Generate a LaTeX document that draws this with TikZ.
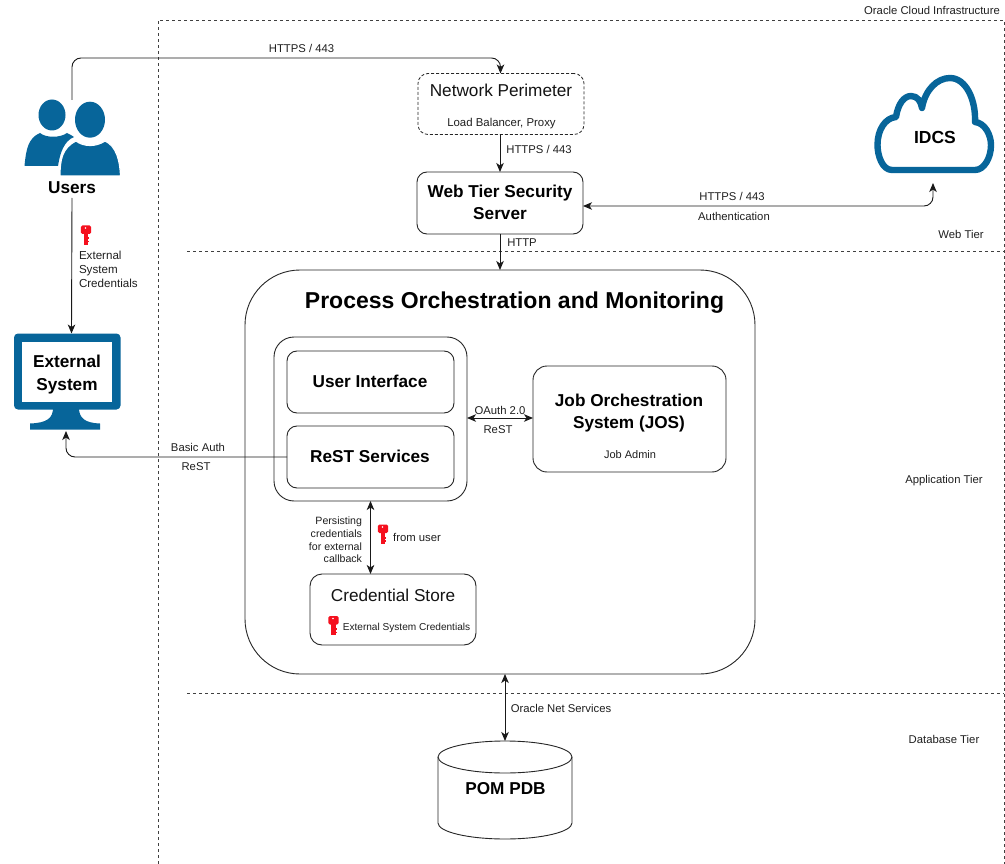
\documentclass[tikz,border=0pt]{standalone}
\usepackage{fontspec}
\setmainfont{Liberation Sans}
\usetikzlibrary{arrows.meta,calc}
\definecolor{iconblue}{HTML}{07659A}
\definecolor{keyred}{HTML}{F5101E}
\newcommand{\fsz}[1]{\fontsize{#1}{#1}\selectfont}
\tikzset{
  x=1pt,y=-1pt,
  every node/.style={inner sep=0pt,outer sep=0pt},
  lab/.style={font=\fsz{11.3},text=black!88},
  labsm/.style={font=\fsz{11},text=black!88},
  title/.style={font=\fsz{17.2},align=center,text=black!92},
  btitle/.style={font=\bfseries\fsz{17.2},align=center,text=black},
  box/.style={draw=black!85,line width=0.9pt,rounded corners=#1},
  box/.default=10pt,
  conn/.style={draw=black!90,line width=0.9pt,-{Stealth[length=9pt,width=7.5pt,inset=2.5pt]}},
  connb/.style={draw=black!90,line width=0.9pt,{Stealth[length=9pt,width=7.5pt,inset=2.5pt]}-{Stealth[length=9pt,width=7.5pt,inset=2.5pt]}},
  tier/.style={draw=black!75,line width=0.8pt,dash pattern=on 3pt off 3pt},
  keyicon/.pic={
    \fill[keyred,rounded corners=1.5pt] (-5.2,-9.5) rectangle (5.2,-1);
    \fill[keyred] (-2.2,-2) rectangle (2.2,9.5);
    \fill[keyred] (2,2.5) rectangle (3.2,4.5);
    \fill[keyred] (2,6) rectangle (3.2,7.5);
    \fill[white] (-0.5,-7) circle (0.8);
  },
}
\begin{document}
\begin{tikzpicture}
\useasboundingbox (0,0) rectangle (1005,864);
\fill[white] (0,0) rectangle (1005,864);

% tiers
\coordinate (ociBL) at (158,864);
\coordinate (ociTL) at (158,20);
\coordinate (ociTR) at (1004,20);
\coordinate (ociBR) at (1004,864);
\draw[tier] (ociBL) -- (ociTL) -- (ociTR) -- (ociBR);
\coordinate (webL) at (187,251);
\coordinate (webR) at (1004,251);
\draw[tier] (webL) -- (webR);
\coordinate (dbL) at (187,693);
\coordinate (dbR) at (1004,693);
\draw[tier] (dbL) -- (dbR);

% boxes
\node[draw=black!85,line width=0.8pt,dash pattern=on 3pt off 2pt,rounded corners=10pt,minimum width=166,minimum height=61] (net) at (501,104) {};
\node[box,minimum width=166,minimum height=62] (web) at (500,203) {};
\node[box=55pt,minimum width=510,minimum height=404] (pom) at (500,472) {};
\node[box=20pt,minimum width=193,minimum height=164] (cont) at (370.5,419) {};
\node[box,minimum width=167,minimum height=62] (ui) at (370.5,382) {};
\node[box,minimum width=167,minimum height=62] (rest) at (370.5,457) {};
\node[box=14pt,minimum width=193,minimum height=106] (jos) at (629.5,419) {};
\node[box=12pt,minimum width=166,minimum height=71] (cred) at (393,609.5) {};

% database
\node[minimum width=134,minimum height=98] (pdb) at (505,790) {};
\draw[draw=black!85,line width=0.9pt] (pdb.north west) ++(0,16)
  arc[start angle=180,end angle=360,x radius=67,y radius=16]
  -- ++(0,66)
  arc[start angle=0,end angle=180,x radius=67,y radius=16] -- cycle;
\draw[draw=black!85,line width=0.9pt] (pdb.north west) ++(0,16)
  arc[start angle=180,end angle=0,x radius=67,y radius=16];

% users icon
\coordinate (usersTop) at (72,100);
\coordinate (usersBot) at (72,198);
\fill[iconblue] (52,115) ellipse[x radius=13.5,y radius=15.5];
\fill[iconblue] (24.5,166) .. controls (26,150) and (28,138) .. (40,133)
  .. controls (46,138) and (60,138) .. (67,133)
  .. controls (70,134) and (72,136) .. (74,137)
  .. controls (64,141) and (60,153) .. (58,166) -- cycle;
\fill[iconblue] (90,119.7) ellipse[x radius=15,y radius=18];
\draw[white,line width=1.2pt,fill=iconblue] (60,176) .. controls (60,160) and (62,148) .. (76,141)
  .. controls (84,147) and (96,147) .. (105,141)
  .. controls (116,146) and (120,160) .. (120.5,176) -- cycle;

% monitor icon
\fill[iconblue,rounded corners=4pt] (14,333.5) rectangle (120.5,409.5);
\fill[white] (22,342) rectangle (112,401.5);
\fill[iconblue] (53,408) .. controls (53,418) and (47,423) .. (30,423.5)
  -- (30,429.5) -- (100,429.5) -- (100,423.5)
  .. controls (85,423) and (79,418) .. (79,408) -- cycle;
\coordinate (extTop) at (71.5,333.5);
\coordinate (extBot) at (66,431);

% cloud icon
\draw[iconblue,line width=6.4pt,line join=round,fill=white]
  (892,170)
  .. controls (882,170) and (877.5,155) .. (877.5,145)
  .. controls (877.5,130) and (885,118) .. (896,117)
  .. controls (898,104) and (904,96) .. (911,96)
  .. controls (918,96) and (921,102) .. (922,108)
  .. controls (925,90) and (937,78) .. (950,78)
  .. controls (966,78) and (976,100) .. (975,122)
  .. controls (985,123) and (991,135) .. (991,145)
  .. controls (991,158) and (984,170) .. (975,170)
  -- cycle;
\coordinate (idcsIn) at (933,183);

% connectors
\coordinate (bendA) at (72,58);
\coordinate (bendB) at (500.5,58);
\draw[conn,rounded corners=9pt] (usersTop) -- (bendA) -- (bendB) -- (bendB |- net.north);
\draw[conn] (net.south -| web.north) -- (web.north);
\draw[connb,rounded corners=9pt] (web.east |- 0,206) -- (idcsIn |- 0,206) -- (idcsIn);
\draw[conn] (web.south) -- (web.south |- pom.north);
\draw[conn] (usersBot) -- (extTop);
\draw[conn,rounded corners=9pt] (rest.west) -- (rest.west -| extBot) -- (extBot);
\draw[connb] (cont.east |- 0,418) -- (jos.west |- 0,418);
\draw[connb] (cont.south) -- (cont.south |- cred.north);
\draw[connb] (pom.south -| pdb.north) -- (pdb.north);

% keys
\pic at (86,235) {keyicon};
\pic at (383,534) {keyicon};
\pic at (333.5,625.5) {keyicon};

% labels
\node[lab] (l1) at (301.5,48) {HTTPS / 443};
\node[title] (t1) at (501,90) {Network Perimeter};
\node[labsm,font=\fsz{11.4}] (l2) at (501.5,124) {Load Balancer, Proxy};
\node[lab] (l3) at (539,149) {HTTPS / 443};
\node[btitle] (t2) at (500,202) {Web Tier Security\\[5pt]Server};
\node[lab] (l4) at (522,243) {HTTP};
\node[lab] (l5) at (732,196) {HTTPS / 443};
\node[lab] (l6) at (734,216) {Authentication};
\node[lab] (l7) at (961,234) {Web Tier};
\node[lab] (l8) at (932,10) {Oracle Cloud Infrastructure};
\node[lab] (l9) at (944,481) {Application Tier};
\node[lab] (l10) at (944,739) {Database Tier};
\node[btitle] (t3) at (72,188) {Users};
\node[btitle] (t4) at (67,374.5) {External\\[5pt]System};
\node[lab,align=left,anchor=west,font=\fsz{11.6}] (l11) at (79,269) {External\\[2.4pt]System\\[2.4pt]Credentials};
\node[lab] (l12) at (198,447) {Basic Auth};
\node[lab] (l13) at (196,467) {ReST};
\node[lab] (l14) at (500,410) {OAuth 2.0};
\node[lab] (l15) at (498,430) {ReST};
\node[btitle] (t5) at (370,381) {User Interface};
\node[btitle] (t6) at (370,456) {ReST Services};
\node[btitle] (t7) at (629,413) {Job Orchestration\\[5pt]System (JOS)};
\node[labsm] (l16) at (630,455) {Job Admin};
\node[font=\bfseries\fsz{23},text=black] (t8) at (514.5,303) {Process Orchestration and Monitoring};
\node[labsm,align=right,anchor=east,font=\fsz{10.6}] (l17) at (362,540) {Persisting\\[2pt]credentials\\[2pt]for external\\[2pt]callback};
\node[lab] (l18) at (417,537) {from user};
\node[title] (t9) at (393,595) {Credential Store};
\node[labsm,font=\fsz{10.1}] (l19) at (406.5,628) {External System Credentials};
\node[lab] (l20) at (561,708) {Oracle Net Services};
\node[btitle,font=\bfseries\fsz{17.2}] (t10) at (505.5,789) {POM PDB};
\node[btitle,font=\bfseries\fsz{17.5}] (t11) at (935,137) {IDCS};
\end{tikzpicture}
\end{document}
